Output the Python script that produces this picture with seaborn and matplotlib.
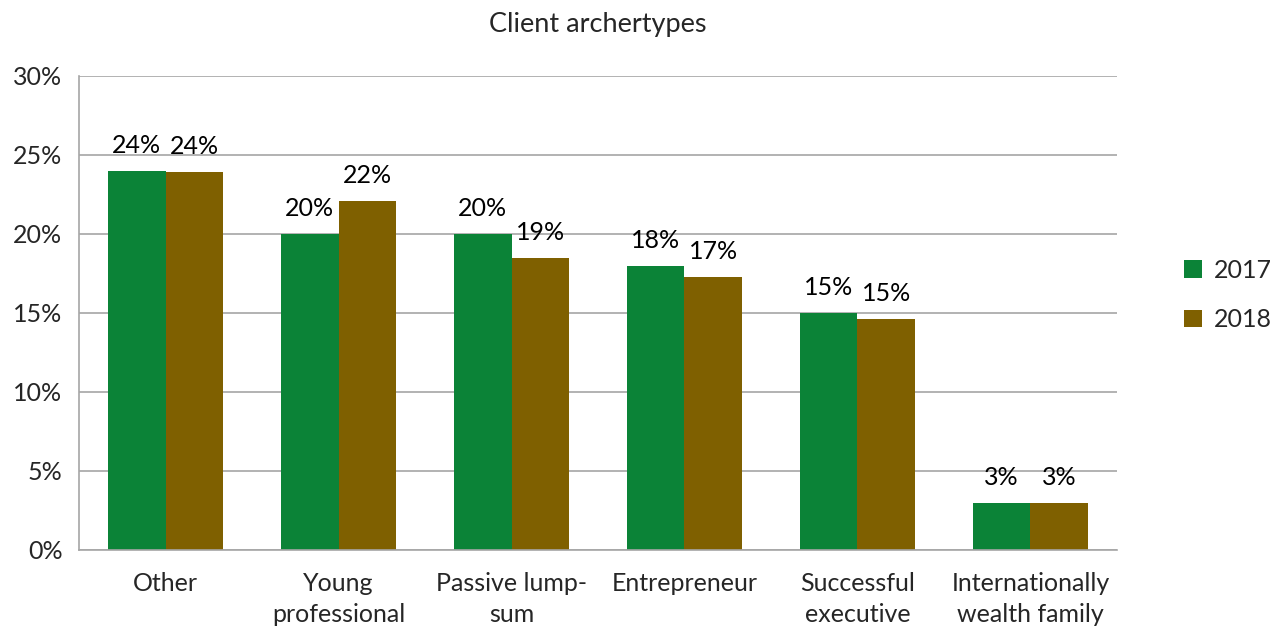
import pandas as pd
import matplotlib.pyplot as plt
import seaborn as sns
from matplotlib.ticker import FixedLocator, PercentFormatter

categories = ['Other', 'Young\nprofessional', 'Passive lump-\nsum', 'Entrepreneur',
              'Successful\nexecutive', 'Internationally\nwealth family']
values_2017 = [24.0, 20.0, 20.0, 18.0, 15.0, 3.0]
values_2018 = [23.9, 22.1, 18.5, 17.3, 14.6, 3.0]
labels_2017 = ['24%', '20%', '20%', '18%', '15%', '3%']
labels_2018 = ['24%', '22%', '19%', '17%', '15%', '3%']
years = ['2017', '2018']

sns.set_style('white')
plt.rcParams['font.family'] = ['Lato', 'DejaVu Sans']

df = pd.DataFrame({
    'category': categories * 2,
    'year': [years[0]] * 6 + [years[1]] * 6,
    'value': values_2017 + values_2018,
})

fs = 18

fig = plt.figure(figsize=(12.79, 6.3), dpi=100)
ax = fig.add_axes([0.0618, 0.127, 0.8115, 0.7524])

sns.barplot(data=df, x='category', y='value', hue='year', order=categories,
            hue_order=years, palette=['#0B8337', '#7F6000'], width=0.67,
            gap=0, saturation=1, ax=ax, edgecolor='none', legend=True)

for cont, labs in zip(ax.containers, [labels_2017, labels_2018]):
    ax.bar_label(cont, labels=labs, padding=10, fontsize=fs, color='black')

ax.set_ylim(0, 30)
ax.set_xlim(-0.5, 5.5)
ax.set_yticks([0, 5, 10, 15, 20, 25, 30])
ax.yaxis.set_major_formatter(PercentFormatter(decimals=0))
ax.grid(True, axis='y', color='#A6A6A6', linewidth=1.2)
ax.set_axisbelow(True)
for s in ['top', 'right']:
    ax.spines[s].set_visible(False)
for s in ['left', 'bottom']:
    ax.spines[s].set_color('#A6A6A6')
    ax.spines[s].set_linewidth(1.2)

ax.tick_params(axis='y', labelsize=fs, length=6, color='#A6A6A6', width=1.2, pad=6)
ax.tick_params(axis='x', which='major', labelsize=fs, length=0, pad=16)
for lab in ax.get_xticklabels():
    lab.set_linespacing(1.4)
ax.xaxis.set_minor_locator(FixedLocator([i - 0.5 for i in range(7)]))
ax.tick_params(axis='x', which='minor', length=7, color='#A6A6A6', width=1.2)
ax.set_xlabel('')
ax.set_ylabel('')

ax.set_title('Client archertypes', fontsize=19.5, pad=32)

leg = ax.legend(loc='center left', bbox_to_anchor=(1.043, 0.538), frameon=False,
                fontsize=fs, handlelength=0.7, handleheight=0.7,
                labelspacing=1.05, handletextpad=0.5)

fig.savefig('out.png', dpi=100)
